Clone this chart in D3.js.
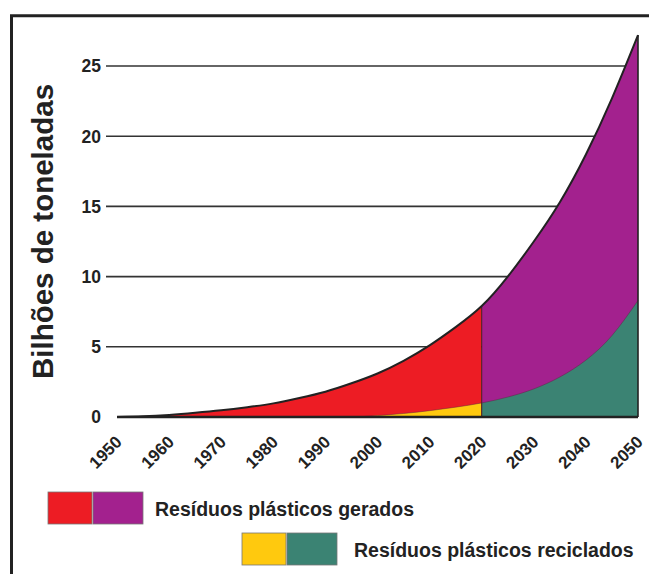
<!DOCTYPE html>
<html>
<head>
<meta charset="utf-8">
<script src="https://cdn.jsdelivr.net/npm/d3@7"></script>
<style>
  html, body { margin: 0; padding: 0; background: #fff; }
  svg { display: block; }
  text { font-family: "Liberation Sans", Arial, sans-serif; font-weight: bold; fill: #222; }
</style>
</head>
<body>
<script>
// ---- data (every 5 years) ----
const years = [1950, 1955, 1960, 1965, 1970, 1975, 1980, 1985, 1990, 1995, 2000,
               2005, 2010, 2015, 2020, 2025, 2030, 2035, 2040, 2045, 2050];
const generated = [0, 0.05, 0.15, 0.3, 0.48, 0.7, 0.97, 1.35, 1.8, 2.4, 3.1,
                   4.0, 5.1, 6.4, 7.9, 10.0, 12.5, 15.3, 18.7, 22.7, 27.2];
const recycledYears = [1996, 2000, 2005, 2010, 2015, 2020, 2025, 2030, 2035, 2040, 2045, 2050];
const recycled = [0, 0.1, 0.25, 0.45, 0.7, 1.0, 1.42, 2.0, 2.85, 4.05, 5.8, 8.3];
const yTicks = [0, 5, 10, 15, 20, 25];
const xTicks = [1950, 1960, 1970, 1980, 1990, 2000, 2010, 2020, 2030, 2040, 2050];
const splitYear = 2020;
const yTitle = "Bilhões de toneladas";
const legendLabels = ["Resíduos plásticos gerados", "Resíduos plásticos reciclados"];
const colors = { genPast: "#ED1C24", genFuture: "#A3218E", recPast: "#FFC90E", recFuture: "#3B8373" };

const W = 649, H = 574;
const svg = d3.select("body").append("svg").attr("width", W).attr("height", H);

const x = d3.scaleLinear().domain([1950, 2050]).range([117, 638]);
const y = d3.scaleLinear().domain([0, 25]).range([417, 66]);

// frame
svg.append("path")
  .attr("d", `M11.5,${H + 5} L11.5,15.7 L${W + 5},15.7`)
  .attr("fill", "none").attr("stroke", "#222").attr("stroke-width", 3);

// grid lines
svg.append("g").selectAll("line").data(yTicks.filter(d => d > 0)).join("line")
  .attr("x1", 106).attr("x2", x(2050))
  .attr("y1", d => y(d)).attr("y2", d => y(d))
  .attr("stroke", "#333").attr("stroke-width", 1.6);

// y tick labels
svg.append("g").selectAll("text").data(yTicks).join("text")
  .attr("x", 101).attr("y", d => y(d)).attr("dy", "0.36em")
  .attr("text-anchor", "end").attr("font-size", 17.5)
  .text(d => d);

// clip paths
const defs = svg.append("defs");
defs.append("clipPath").attr("id", "past").append("rect")
  .attr("x", x(1950) - 5).attr("y", 0).attr("width", x(splitYear) - x(1950) + 5).attr("height", H);
defs.append("clipPath").attr("id", "future").append("rect")
  .attr("x", x(splitYear)).attr("y", 0).attr("width", x(2050) - x(splitYear)).attr("height", H);
defs.append("clipPath").attr("id", "above0").append("rect")
  .attr("x", 0).attr("y", 0).attr("width", W).attr("height", y(0));

const genData = years.map((yr, i) => ({ yr, v: generated[i] }));
const recData = recycledYears.map((yr, i) => ({ yr, v: recycled[i] }));

const curve = d3.curveNatural;
const area = d3.area().x(d => x(d.yr)).y0(y(0)).y1(d => y(d.v)).curve(curve);
const line = d3.line().x(d => x(d.yr)).y(d => y(d.v)).curve(curve);

const g0 = svg.append("g").attr("clip-path", "url(#above0)");
g0.append("path").datum(genData).attr("d", area).attr("fill", colors.genPast).attr("clip-path", "url(#past)");
g0.append("path").datum(genData).attr("d", area).attr("fill", colors.genFuture).attr("clip-path", "url(#future)");
g0.append("path").datum(recData).attr("d", area).attr("fill", colors.recPast).attr("clip-path", "url(#past)");
g0.append("path").datum(recData).attr("d", area).attr("fill", colors.recFuture).attr("clip-path", "url(#future)");

// boundaries
g0.append("path").datum(recData).attr("d", line).attr("fill", "none")
  .attr("stroke", "#5a2a40").attr("stroke-width", 0.8).attr("stroke-opacity", 0.6);
const genAt = v => generated[years.indexOf(v)];
svg.append("line")
  .attr("x1", x(splitYear)).attr("x2", x(splitYear))
  .attr("y1", y(0)).attr("y2", y(genAt(splitYear)))
  .attr("stroke", "#4a1a1a").attr("stroke-width", 1);
svg.append("line")
  .attr("x1", x(2050)).attr("x2", x(2050))
  .attr("y1", y(0)).attr("y2", y(genAt(2050)))
  .attr("stroke", "#222").attr("stroke-width", 1.6);
svg.append("path").datum(genData).attr("d", line).attr("fill", "none")
  .attr("stroke", "#222").attr("stroke-width", 2);
// baseline
svg.append("line")
  .attr("x1", x(1950)).attr("x2", x(2050))
  .attr("y1", y(0)).attr("y2", y(0))
  .attr("stroke", "#222").attr("stroke-width", 2.4);

// x tick labels
svg.append("g").selectAll("text").data(xTicks).join("text")
  .attr("transform", d => `translate(${x(d) + 6},443) rotate(-45)`)
  .attr("text-anchor", "end").attr("font-size", 17)
  .text(d => d);

// y title
svg.append("text")
  .attr("transform", "translate(53,231.5) rotate(-90)")
  .attr("text-anchor", "middle").attr("font-size", 29.5)
  .text(yTitle);

// legend
const leg = [
  { x0: 48, y0: 492, c1: colors.genPast, c2: colors.genFuture, tx: 155, ty: 516, label: legendLabels[0] },
  { x0: 242, y0: 533, c1: colors.recPast, c2: colors.recFuture, tx: 354, ty: 557, label: legendLabels[1] }
];
leg.forEach(l => {
  svg.append("rect").attr("x", l.x0).attr("y", l.y0).attr("width", 44).attr("height", 32)
    .attr("fill", l.c1).attr("stroke", "#777").attr("stroke-width", 0.8);
  svg.append("rect").attr("x", l.x0 + 45).attr("y", l.y0).attr("width", 50).attr("height", 32)
    .attr("fill", l.c2).attr("stroke", "#777").attr("stroke-width", 0.8);
  svg.append("text").attr("x", l.tx).attr("y", l.ty).attr("font-size", 19.5).text(l.label);
});
</script>
</body>
</html>
